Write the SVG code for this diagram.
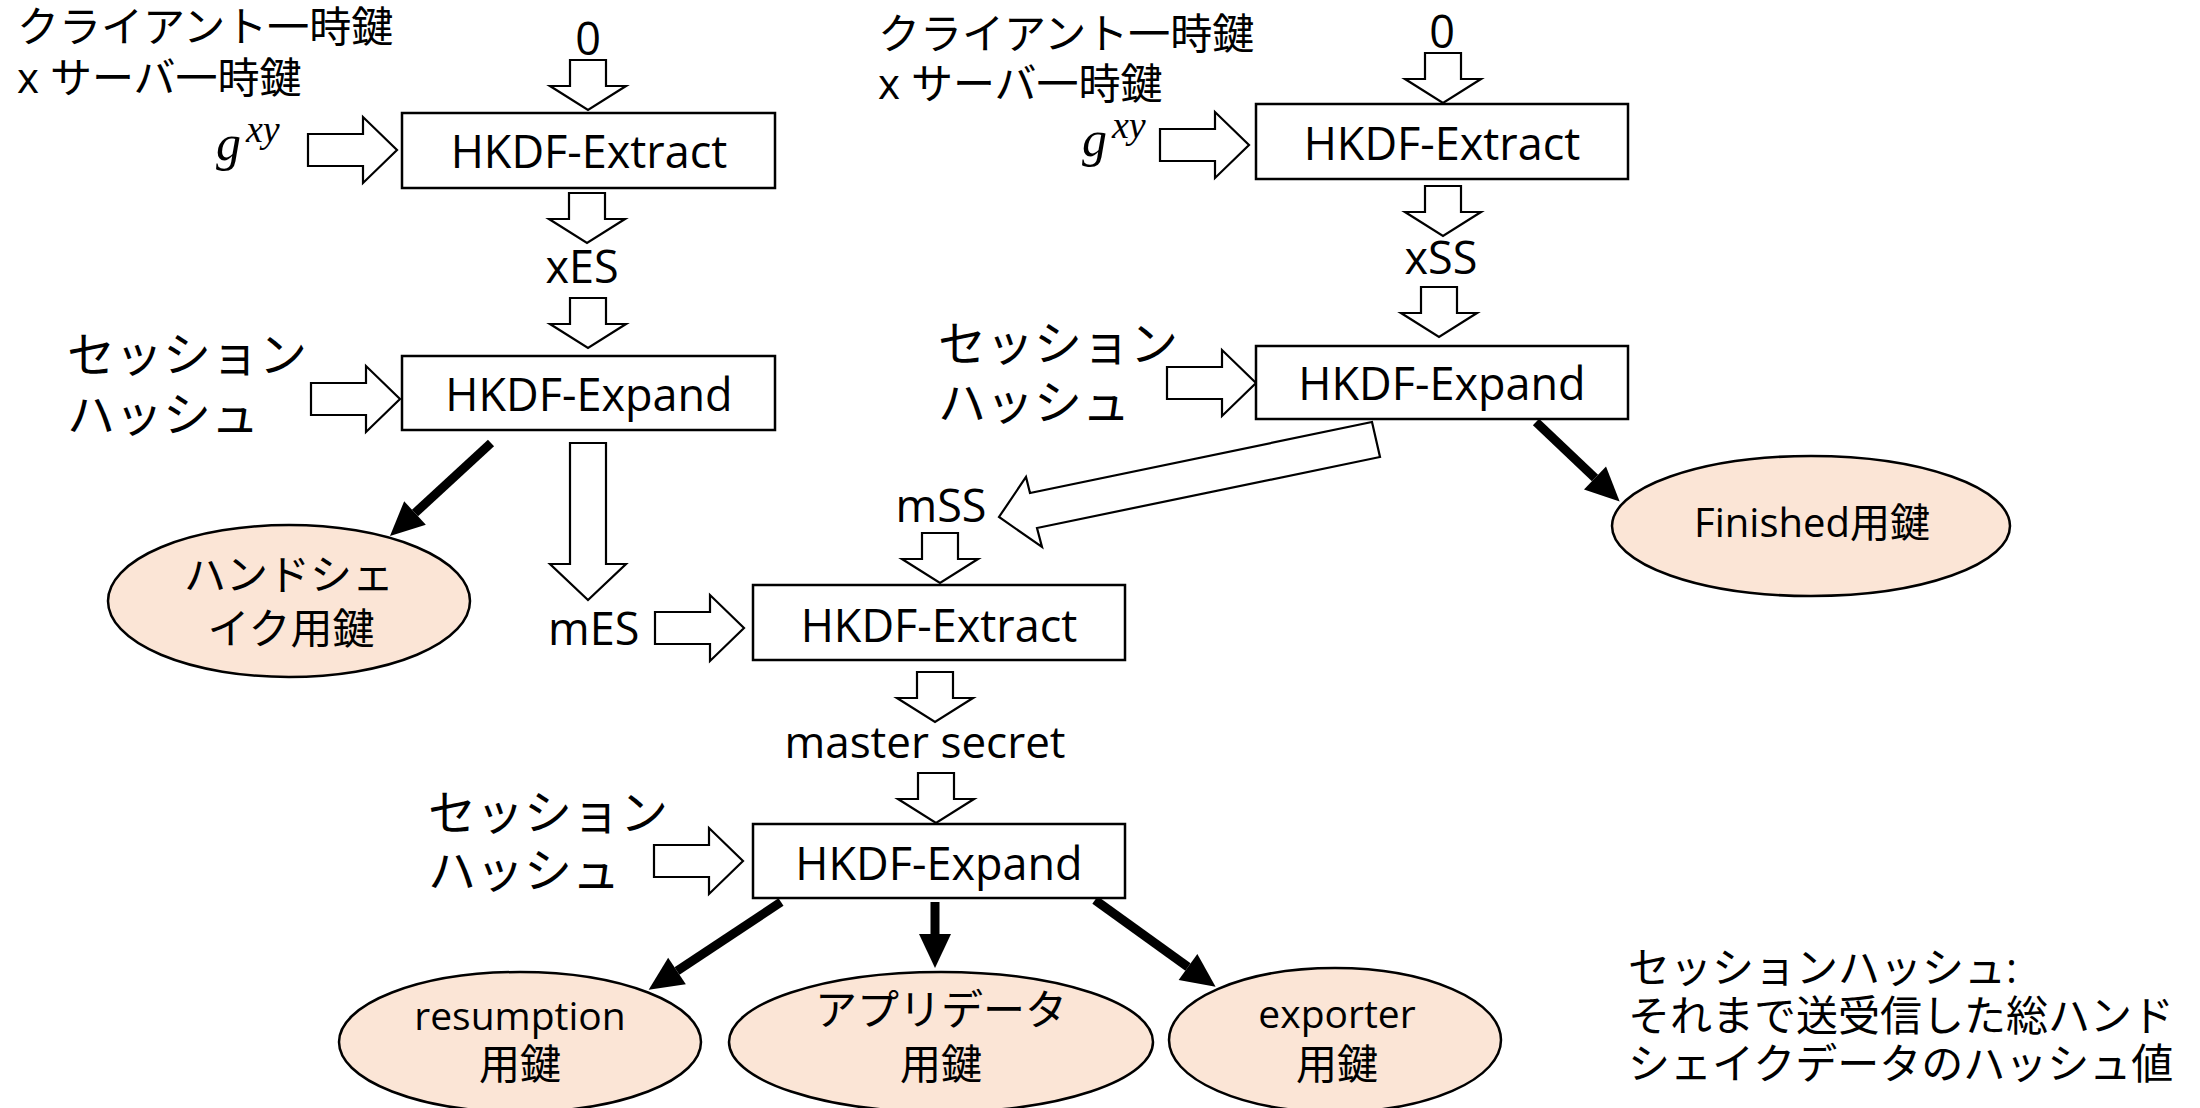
<svg xmlns="http://www.w3.org/2000/svg" width="2200" height="1108" viewBox="0 0 2200 1108">
<style>
.t{font-family:"Open Sans","Noto Sans CJK JP",sans-serif;fill:#000}
.m{font-family:"Liberation Serif","DejaVu Serif",serif;font-style:italic;fill:#000}
.box{fill:#fff;stroke:#000;stroke-width:2.5}
.ell{fill:#FBE5D6;stroke:#000;stroke-width:2.5}
.ha{fill:#fff;stroke:#000;stroke-width:2.2;stroke-linejoin:miter}
.bold{stroke:#000;stroke-width:9;fill:none;marker-end:url(#bh)}
.c{text-anchor:middle}
</style>
<defs>
<marker id="bh" markerUnits="userSpaceOnUse" markerWidth="36" markerHeight="34" refX="0" refY="16" orient="auto" overflow="visible">
<path d="M0,0 L34,16 L0,32 z" fill="#000"/>
</marker>
<path id="dA" class="ha" d="M-18,-50 H18 V-24 H38 L0,0 L-38,-24 H-18 Z"/>
<path id="rA" class="ha" d="M-89,-16 H-34 V-33 L0,0 L-34,33 V16 H-89 Z"/>
</defs>
<rect width="2200" height="1108" fill="#fff"/>

<g id="connectors">
<use href="#dA" x="588" y="110"/>
<use href="#dA" x="587" y="243"/>
<use href="#dA" x="588" y="348"/>
<use href="#dA" x="1443" y="103"/>
<use href="#dA" x="1443" y="236"/>
<use href="#dA" x="1439" y="337"/>
<use href="#dA" x="940" y="583"/>
<use href="#dA" x="935" y="722"/>
<use href="#dA" x="936" y="823"/>
<use href="#rA" x="397" y="150"/>
<use href="#rA" x="400" y="399"/>
<use href="#rA" x="1249" y="145"/>
<use href="#rA" x="1256" y="383"/>
<use href="#rA" x="744" y="628"/>
<use href="#rA" x="743" y="861"/>
<path class="ha" d="M570,443 H606 V564 H626 L588,600 L550,564 H570 Z"/>
<path class="ha" d="M1372,422 L1380,457 L1037,528 L1042,547 L999,517 L1026,477 L1030,493 Z"/>
<line class="bold" x1="491" y1="443" x2="415" y2="513"/>
<line class="bold" x1="1536" y1="422" x2="1595" y2="478"/>
<line class="bold" x1="781" y1="902" x2="677" y2="971"/>
<line class="bold" x1="935" y1="902" x2="935" y2="934"/>
<line class="bold" x1="1095" y1="900" x2="1188" y2="967"/>
</g>

<g id="label-left-keys">
<text class="t" x="17" y="42" font-size="42">クライアント一時鍵</text>
<text class="t" x="17" y="93" font-size="42">x サーバ一時鍵</text>
</g>
<g id="label-left-gxy">
<text class="m" x="216" y="160" font-size="50">g<tspan font-size="38" dx="5" dy="-18">xy</tspan></text>
</g>
<g id="label-left-zero"><text class="t c" x="588" y="55" font-size="45">0</text></g>
<g id="node-left-extract">
<rect class="box" x="402" y="113" width="373" height="75"/>
<text class="t c" x="589" y="168" font-size="45">HKDF-Extract</text>
</g>
<g id="label-xES"><text class="t c" x="582" y="283" font-size="45">xES</text></g>
<g id="label-left-hash">
<text class="t" x="67" y="372" font-size="48">セッション</text>
<text class="t" x="67" y="432" font-size="48">ハッシュ</text>
</g>
<g id="node-left-expand">
<rect class="box" x="402" y="356" width="373" height="74"/>
<text class="t c" x="589" y="411" font-size="45">HKDF-Expand</text>
</g>
<g id="node-handshake-key">
<ellipse class="ell" cx="289" cy="601" rx="181" ry="76"/>
<text class="t c" x="289" y="590" font-size="42">ハンドシェ</text>
<text class="t c" x="291" y="644" font-size="42">イク用鍵</text>
</g>

<g id="label-right-keys">
<text class="t" x="878" y="49" font-size="42">クライアント一時鍵</text>
<text class="t" x="878" y="99" font-size="42">x サーバ一時鍵</text>
</g>
<g id="label-right-gxy">
<text class="m" x="1082" y="156" font-size="50">g<tspan font-size="38" dx="5" dy="-18">xy</tspan></text>
</g>
<g id="label-right-zero"><text class="t c" x="1442" y="48" font-size="45">0</text></g>
<g id="node-right-extract">
<rect class="box" x="1256" y="104" width="372" height="75"/>
<text class="t c" x="1442" y="160" font-size="45">HKDF-Extract</text>
</g>
<g id="label-xSS"><text class="t c" x="1441" y="274" font-size="45">xSS</text></g>
<g id="label-right-hash">
<text class="t" x="938" y="361" font-size="48">セッション</text>
<text class="t" x="938" y="420" font-size="48">ハッシュ</text>
</g>
<g id="node-right-expand">
<rect class="box" x="1256" y="346" width="372" height="73"/>
<text class="t c" x="1442" y="400" font-size="45">HKDF-Expand</text>
</g>
<g id="node-finished-key">
<ellipse class="ell" cx="1811" cy="526" rx="199" ry="70"/>
<text class="t c" x="1812" y="537" font-size="40">Finished用鍵</text>
</g>

<g id="label-mSS"><text class="t c" x="941" y="522" font-size="45">mSS</text></g>
<g id="label-mES"><text class="t" x="548" y="645" font-size="45">mES</text></g>
<g id="node-mid-extract">
<rect class="box" x="753" y="585" width="372" height="75"/>
<text class="t c" x="939" y="642" font-size="45">HKDF-Extract</text>
</g>
<g id="label-master"><text class="t c" x="925" y="758" font-size="44">master secret</text></g>
<g id="label-bottom-hash">
<text class="t" x="428" y="830" font-size="48">セッション</text>
<text class="t" x="428" y="888" font-size="48">ハッシュ</text>
</g>
<g id="node-bottom-expand">
<rect class="box" x="753" y="824" width="372" height="74"/>
<text class="t c" x="939" y="880" font-size="45">HKDF-Expand</text>
</g>
<g id="node-resumption-key">
<ellipse class="ell" cx="520" cy="1042" rx="181" ry="70"/>
<text class="t c" x="520" y="1030" font-size="39">resumption</text>
<text class="t c" x="520" y="1079" font-size="41">用鍵</text>
</g>
<g id="node-app-key">
<ellipse class="ell" cx="941" cy="1042" rx="212" ry="70"/>
<text class="t c" x="941" y="1025" font-size="42">アプリデータ</text>
<text class="t c" x="941" y="1079" font-size="41">用鍵</text>
</g>
<g id="node-exporter-key">
<ellipse class="ell" cx="1335" cy="1040" rx="166" ry="72"/>
<text class="t c" x="1337" y="1028" font-size="39">exporter</text>
<text class="t c" x="1337" y="1079" font-size="41">用鍵</text>
</g>
<g id="label-note">
<text class="t" x="1628" y="983" font-size="42">セッションハッシュ:</text>
<text class="t" x="1628" y="1031" font-size="42">それまで送受信した総ハンド</text>
<text class="t" x="1628" y="1079" font-size="42">シェイクデータのハッシュ値</text>
</g>
</svg>
